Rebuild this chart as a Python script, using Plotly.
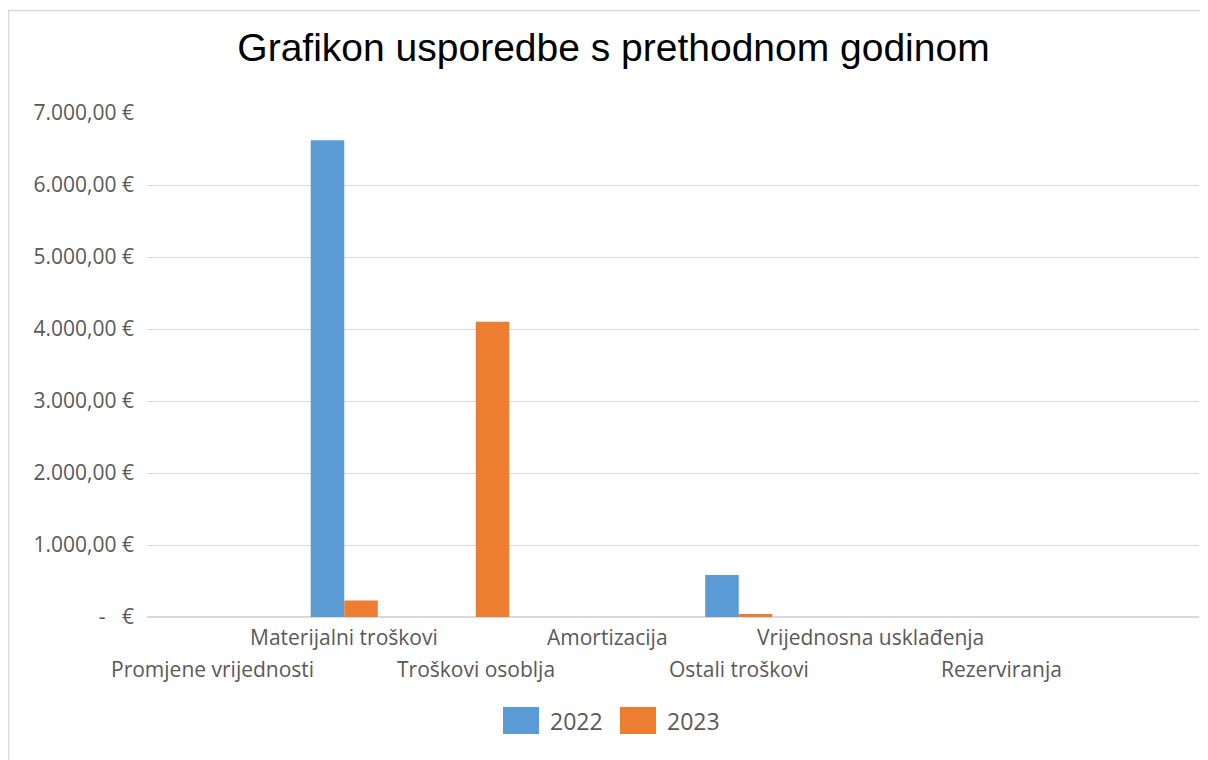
import plotly.graph_objects as go

# ---- data ----
categories = ["Promjene vrijednosti", "Materijalni troškovi", "Troškovi osoblja",
              "Amortizacija", "Ostali troškovi", "Vrijednosna usklađenja", "Rezerviranja"]
series_names = ["2022", "2023"]
values_2022 = [0, 6620, 0, 0, 585, 0, 0]
values_2023 = [0, 230, 4100, 0, 40, 0, 0]
y_tick_values = [0, 1000, 2000, 3000, 4000, 5000, 6000, 7000]
y_tick_labels = ["-\u00a0\u00a0\u00a0€", "1.000,00 €", "2.000,00 €", "3.000,00 €", "4.000,00 €",
                 "5.000,00 €", "6.000,00 €", "7.000,00 €"]
title_text = "Grafikon usporedbe s prethodnom godinom"

# ---- style ----
OFF = 8  # default page body margin of the html page
WIN_W, WIN_H = 1208, 760
W, H = WIN_W - OFF, WIN_H - OFF
PLOT_L, PLOT_R, PLOT_T, PLOT_B = 147, 1199, 113, 617  # in window pixels
ML, MR, MT, MB = PLOT_L - OFF, WIN_W - PLOT_R, PLOT_T - OFF, WIN_H - PLOT_B
PW, PH = W - ML - MR, H - MT - MB
colors = ["#5B9BD5", "#ED7D31"]
label_color = "#595959"
grid_color = "#D9D9D9"
font_family = "Open Sans, Noto Sans, sans-serif"
axis_font = dict(family=font_family, size=21, color=label_color)


def px_x(p):
    return (p - PLOT_L) / (PLOT_R - PLOT_L)


def px_y(p):
    return (PLOT_B - p) / (PLOT_B - PLOT_T)


x_idx = list(range(len(categories)))

fig = go.Figure()
for name, vals, col in zip(series_names, [values_2022, values_2023], colors):
    fig.add_trace(go.Bar(x=x_idx, y=vals, name=name, marker_color=col,
                         marker_line_width=0, showlegend=False))

# staggered category labels
annotations = []
for i, cat in enumerate(categories):
    upper = (i % 2 == 1)
    annotations.append(dict(
        x=i, y=0, xref="x", yref="paper", text=cat, showarrow=False,
        xanchor="center", yanchor="middle", yshift=-20 if upper else -52,
        font=axis_font))

# custom legend (large swatches like the original)
legend_items = [(503, 539, 548), (620, 656, 665)]
shapes = []
for (x0, x1, tx), name, col in zip(legend_items, series_names, colors):
    shapes.append(dict(type="rect", xref="paper", yref="paper",
                       x0=px_x(x0), x1=px_x(x1), y0=px_y(734), y1=px_y(707),
                       fillcolor=col, line=dict(width=0)))
    annotations.append(dict(x=px_x(tx), y=px_y(721), xref="paper", yref="paper",
                            text=name, showarrow=False, xanchor="left", yanchor="middle",
                            font=dict(family=font_family, size=23, color=label_color)))

# chart frame (top and left edges visible)
shapes.append(dict(type="rect", xref="paper", yref="paper",
                   x0=px_x(8.5), x1=px_x(WIN_W + 20), y0=px_y(WIN_H + 20), y1=px_y(10.5),
                   line=dict(color="#D9D9D9", width=1.5), fillcolor="rgba(0,0,0,0)",
                   layer="below"))

fig.update_layout(
    width=W, height=H, autosize=False,
    margin=dict(l=ML, r=MR, t=MT, b=MB, pad=0),
    paper_bgcolor="white", plot_bgcolor="white",
    barmode="group", bargap=0.49, bargroupgap=0,
    title=dict(text=title_text, x=(613.5 - OFF) / W, xref="container", xanchor="center",
               y=1 - (47 - OFF) / H, yref="container", yanchor="middle",
               font=dict(family="Liberation Sans, Arial, sans-serif", size=39, color="#000000")),
    xaxis=dict(range=[-0.5, 7.5], showticklabels=False, showgrid=False,
               zeroline=False, showline=False, ticks="", fixedrange=True),
    yaxis=dict(range=[0, 7000], tickvals=y_tick_values, ticktext=y_tick_labels,
               showgrid=True, gridcolor=grid_color, gridwidth=1,
               zeroline=True, zerolinecolor=grid_color, zerolinewidth=1.5,
               showline=False, ticks="", ticklabelstandoff=12,
               tickfont=axis_font, fixedrange=True),
    annotations=annotations,
    shapes=shapes,
    showlegend=False,
)

fig.write_html("out.html")
